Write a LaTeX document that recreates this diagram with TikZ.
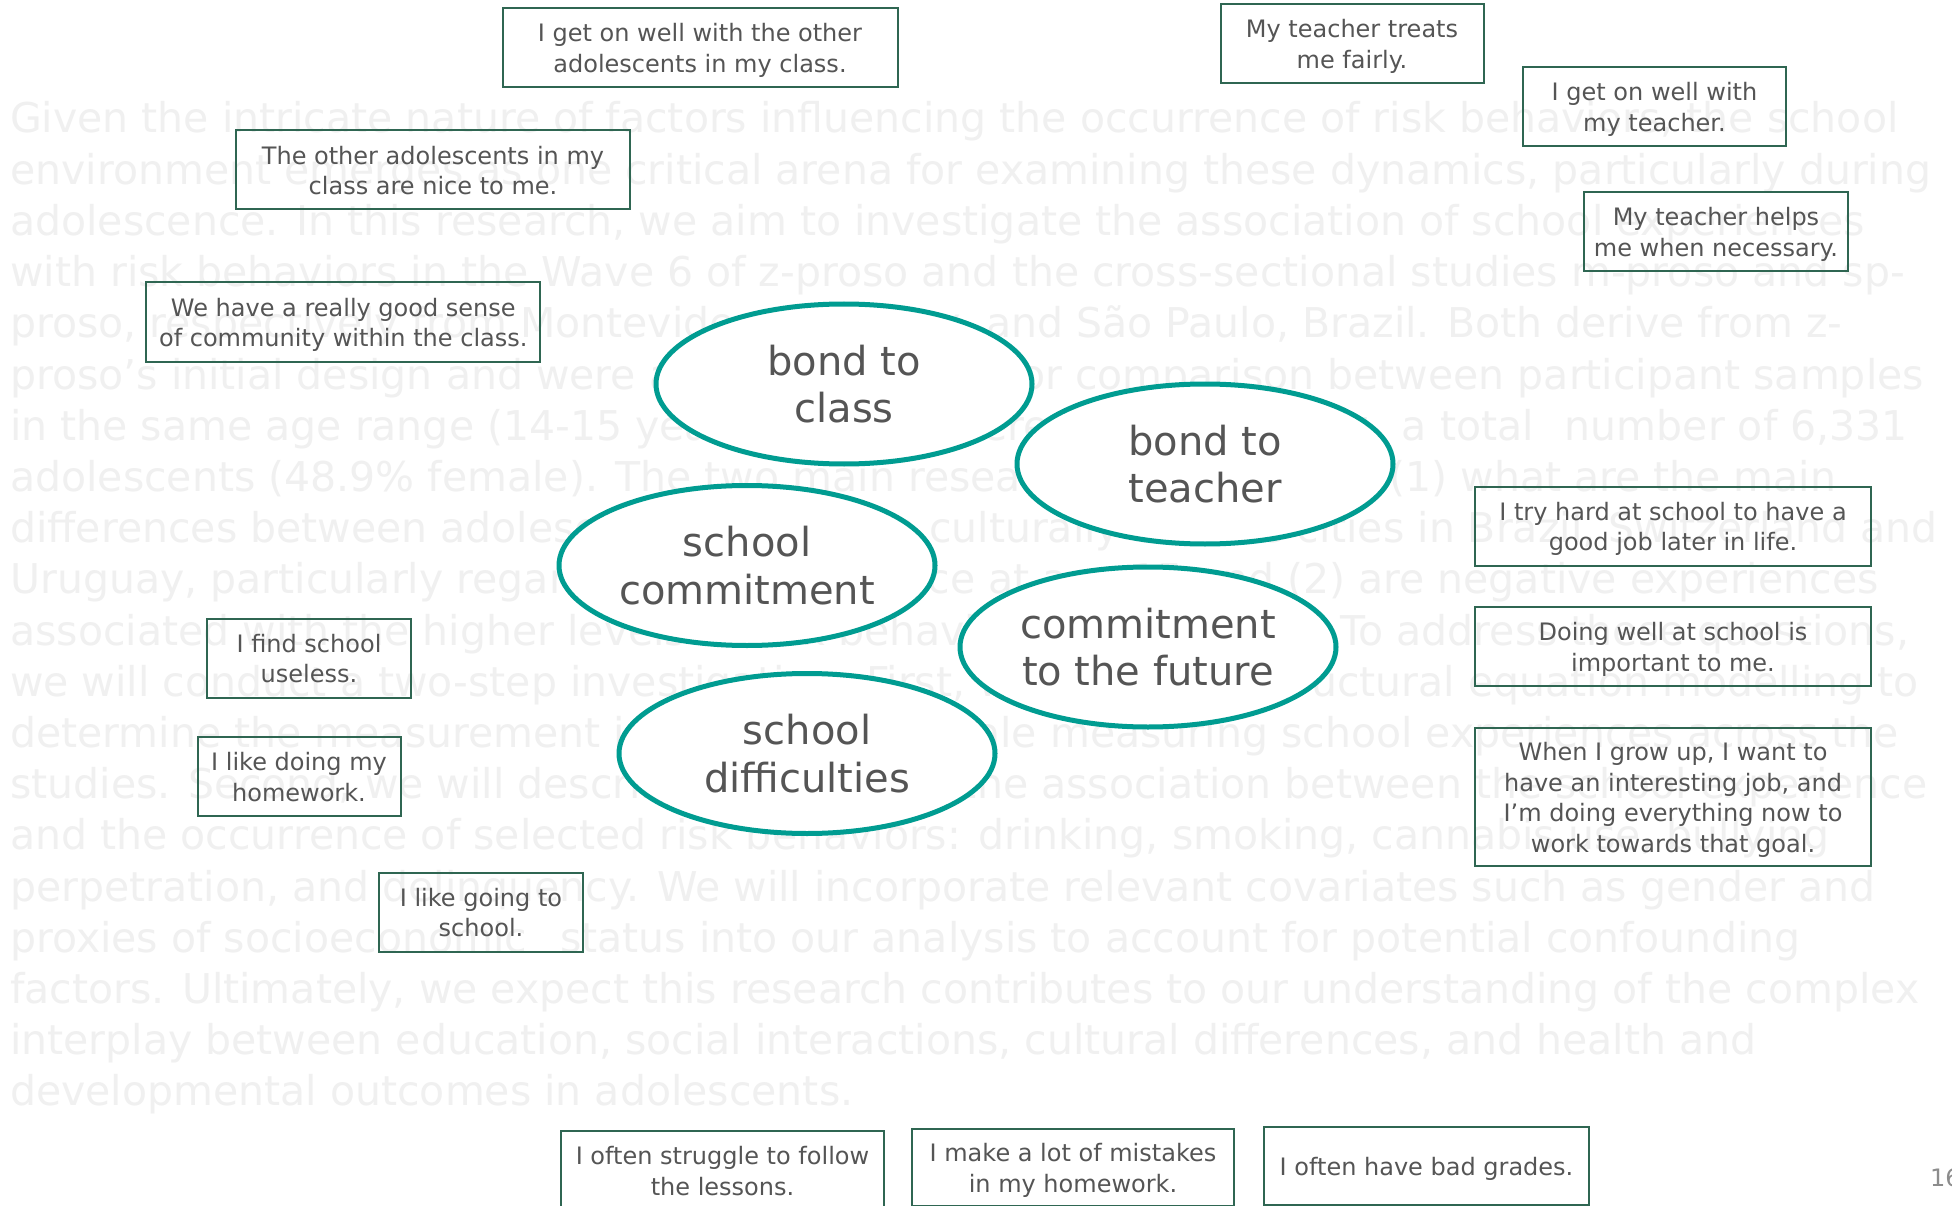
\documentclass[tikz,border=0pt]{standalone}
\usepackage{fontspec}
\setmainfont{DejaVu Sans}
\usetikzlibrary{shapes.geometric}

\definecolor{boxline}{HTML}{2F6652}
\definecolor{ringline}{HTML}{009C91}
\definecolor{labeltext}{HTML}{555555}
\definecolor{bgtext}{HTML}{F0F0F0}
\definecolor{pagenum}{HTML}{8C8C8C}

% fixed line metrics so every box places its lines alike
\newcommand\boxtopstrut{\rule{0pt}{26pt}}
\newcommand\boxbotstrut{\rule[-7pt]{0pt}{7pt}}

\begin{document}
\begin{tikzpicture}[x=1pt,y=-1pt,
  bgline/.style={anchor=base west, inner sep=0pt, text=bgtext,
    font=\fontsize{41}{51}\selectfont},
  itembox/.style={draw=boxline, line width=2pt, inner sep=0pt,
    text=labeltext, align=center, font=\fontsize{24}{30.5}\selectfont},
  factor/.style={ellipse, draw=ringline, fill=white, line width=5pt,
    minimum width=376pt, minimum height=160pt, inner sep=0pt,
    text=labeltext, align=center, font=\fontsize{40}{47.5}\selectfont},
]
\useasboundingbox (0,0) rectangle (1952,1206);
\fill[white] (0,0) rectangle (1952,1206);

% faint abstract paragraph in the background
\foreach \t [count=\i from 0] in {
  {Given the intricate nature of factors influencing the occurrence of risk behaviors, the school},
  {environment emerges as one critical arena for examining these dynamics, particularly during},
  {adolescence. In this research, we aim to investigate the association of school experiences},
  {with risk behaviors in the Wave 6 of z-proso and the cross-sectional studies m-proso and sp-},
  {proso, respectively from Montevideo, Uruguay, and São Paulo, Brazil. Both derive from z-},
  {proso’s initial design and were adapted to allow for comparison between participant samples},
  {in the same age range (14-15 years), and so there are, altogether,\hspace{9pt} a total\hspace{18pt} number of 6,331},
  {adolescents (48.9\% female). The two main research questions are (1) what are the main},
  {differences between adolescents from three culturally diverse cities in Brazil, Switzerland and},
  {Uruguay, particularly regarding the experience at age 15 and (2) are negative experiences},
  {associated with the higher levels of risk behaviors in each city?\hspace{12pt} To address these questions,},
  {we will conduct a two-step investigation. First, we will apply structural equation modelling to},
  {determine the measurement invariance of a scale measuring school experiences across the},
  {studies. Second, we will describe and explore the association between the school experience},
  {and the occurrence of selected risk behaviors: drinking, smoking, cannabis use, bullying},
  {perpetration, and delinquency. We will incorporate relevant covariates such as gender and},
  {proxies of socioeconomic\hspace{20pt} status into our analysis to account for potential confounding},
  {factors. Ultimately, we expect this research contributes to our understanding of the complex},
  {interplay between education, social interactions, cultural differences, and health and},
  {developmental outcomes in adolescents.}}
  \node[bgline] (bg\i) at (10,{133+51.2*\i}) {\t};

% questionnaire items
\node[itembox, minimum width=395pt, minimum height=79pt] (b1) at (700,47.5)
  {\boxtopstrut I get on well with the other\\adolescents in my class.\boxbotstrut};
\node[itembox, minimum width=263pt, minimum height=79pt] (b2) at (1352,43.5)
  {\boxtopstrut My teacher treats\\me fairly.\boxbotstrut};
\node[itembox, minimum width=263pt, minimum height=79pt] (b3) at (1654.5,106.5)
  {\boxtopstrut I get on well with\\my teacher.\boxbotstrut};
\node[itembox, minimum width=394pt, minimum height=79pt] (b4) at (433,170)
  {\boxtopstrut The other adolescents in my\\class are nice to me.\boxbotstrut};
\node[itembox, minimum width=264pt, minimum height=79pt] (b5) at (1716,231.5)
  {\boxtopstrut My teacher helps\\me when necessary.\boxbotstrut};
\node[itembox, minimum width=394pt, minimum height=79pt] (b6) at (343.3,322)
  {\boxtopstrut We have a really good sense\\of community within the class.\boxbotstrut};
\node[itembox, minimum width=396pt, minimum height=79pt] (b7) at (1673,526)
  {\boxtopstrut I try hard at school to have a\\good job later in life.\boxbotstrut};
\node[itembox, minimum width=204pt, minimum height=79pt] (b8) at (309,658)
  {\boxtopstrut I find school\\useless.\boxbotstrut};
\node[itembox, minimum width=396pt, minimum height=79pt] (b9) at (1673,646.5)
  {\boxtopstrut Doing well at school is\\important to me.\boxbotstrut};
\node[itembox, minimum width=203pt, minimum height=79pt] (b10) at (299,776.5)
  {\boxtopstrut I like doing my\\homework.\boxbotstrut};
\node[itembox, minimum width=396pt, minimum height=138pt] (b11) at (1673,797)
  {\boxtopstrut When I grow up, I want to\\have an interesting job, and\\I’m doing everything now to\\work towards that goal.\boxbotstrut};
\node[itembox, minimum width=204pt, minimum height=79pt] (b12) at (481,912)
  {\boxtopstrut I like going to\\school.\boxbotstrut};
\node[itembox, minimum width=323pt, minimum height=79pt] (b13) at (722.5,1170.5)
  {\boxtopstrut I often struggle to follow\\the lessons.\boxbotstrut};
\node[itembox, minimum width=322pt, minimum height=77pt] (b14) at (1073,1167.5)
  {\boxtopstrut I make a lot of mistakes\\in my homework.\boxbotstrut};
\node[itembox, minimum width=325pt, minimum height=78pt] (b15) at (1426.5,1166)
  {\boxtopstrut I often have bad grades.\boxbotstrut};

% latent factors
\node[factor] (fclass) at (844,384) {bond to\\class};
\node[factor] (fteacher) at (1205,464) {bond to\\teacher};
\node[factor] (fcommit) at (747,565.5) {school\\commitment};
\node[factor] (ffuture) at (1148,647) {commitment\\to the future};
\node[factor] (fdiff) at (807,753.5) {school\\difficulties};

% slide number
\node[anchor=base west, inner sep=0pt, text=pagenum,
  font=\fontsize{24}{28}\selectfont] (pageno) at (1930,1186) {16};
\end{tikzpicture}
\end{document}
